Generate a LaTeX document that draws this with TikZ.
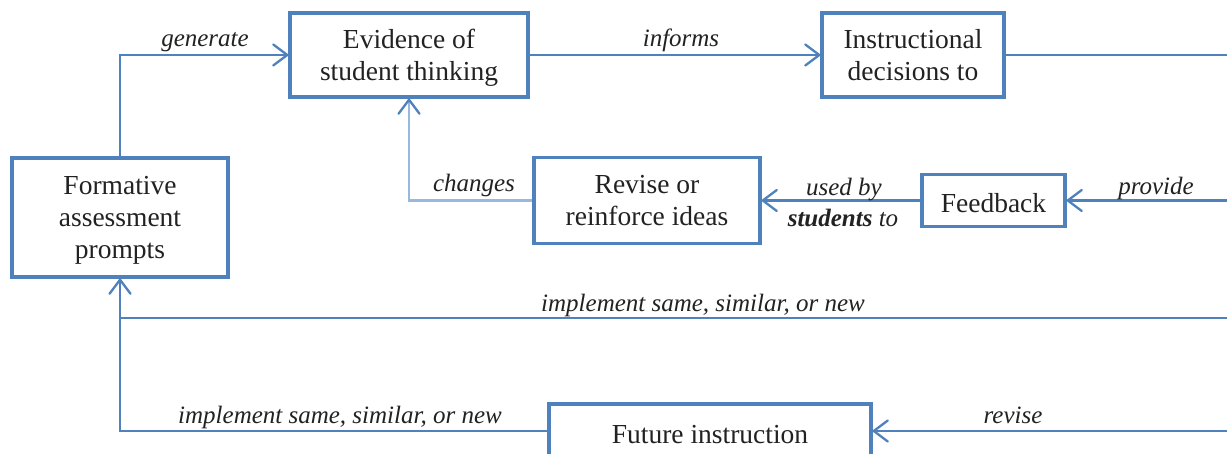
\documentclass[tikz,border=0pt]{standalone}
\usepackage{fontspec}
\setmainfont{Liberation Serif}
\usetikzlibrary{arrows.meta}
\definecolor{flowblue}{RGB}{79,129,189}
\definecolor{paleblue}{RGB}{150,185,225}
\definecolor{inktext}{RGB}{34,34,34}
\begin{document}
\begin{tikzpicture}[x=1pt,y=-1pt,
  stage/.style={draw=flowblue, line width=3.2pt, fill=white, align=center,
    inner sep=0pt, text depth=0pt, text=inktext,
    font=\fontsize{27.5}{32}\selectfont},
  single/.style={text height=24pt},
  link/.style={draw=flowblue, line width=2.3pt},
  flow/.style={link, -{Straight Barb[length=14pt,width=21pt,round,color=flowblue]}},
  tag/.style={font=\fontsize{25}{28}\selectfont\itshape, text=inktext,
    anchor=base, inner sep=0pt}
]
% canvas
\useasboundingbox (0,0) rectangle (1227,454);
\fill[white] (0,0) rectangle (1227,454);
\clip (0,0) rectangle (1227,454);

% stages
\node[stage, minimum width=216pt, minimum height=119pt] (form) at (120,217.5)
  {Formative\\assessment\\prompts};
\node[stage, minimum width=238pt, minimum height=84pt] (evid) at (409,55)
  {Evidence of\\student thinking};
\node[stage, minimum width=182pt, minimum height=84pt] (instr) at (913,55)
  {Instructional\\decisions to};
\node[stage, minimum width=226pt, minimum height=86pt] (rev) at (647,200.5)
  {Revise or\\reinforce ideas};
\node[stage, single, minimum width=143pt, minimum height=52pt] (feed) at (993.5,200.5)
  {Feedback};
\node[stage, single, minimum width=322pt, minimum height=54pt] (fut) at (710,431)
  {Future instruction};

% loose ends running off to the right
\coordinate (r1) at (1240,55);
\coordinate (r2) at (1240,200.5);
\coordinate (r3) at (1240,318);
\coordinate (r4) at (1240,431);
\coordinate (join) at (form.south |- r3);

% connectors
\draw[flow] (form.north) |- (evid.west);
\draw[flow] (evid.east) -- (instr.west);
\draw[link] (instr.east) -- (r1);
\draw[flow, draw=paleblue] (rev.west) -| (evid.south);
\draw[flow] (feed.west) -- (rev.east);
\draw[flow] (r2) -- (feed.east);
\draw[flow] (r3) -| (form.south);
\draw[link] (fut.west) -| (join);
\draw[flow] (r4) -- (fut.east);

% connector labels
\node[tag] (lgen) at (205,47) {generate};
\node[tag] (linf) at (681,47) {informs};
\node[tag] (lchg) at (474,192) {changes};
\node[tag] (luse) at (844,196) {used by};
\node[tag] (lstu) at (843,227) {\textbf{students} to};
\node[tag] (lpro) at (1156,195) {provide};
\node[tag] (limp) at (703,312) {implement same, similar, or new};
\node[tag] (limq) at (340,424) {implement same, similar, or new};
\node[tag] (lrev) at (1013,424) {revise};
\end{tikzpicture}
\end{document}
